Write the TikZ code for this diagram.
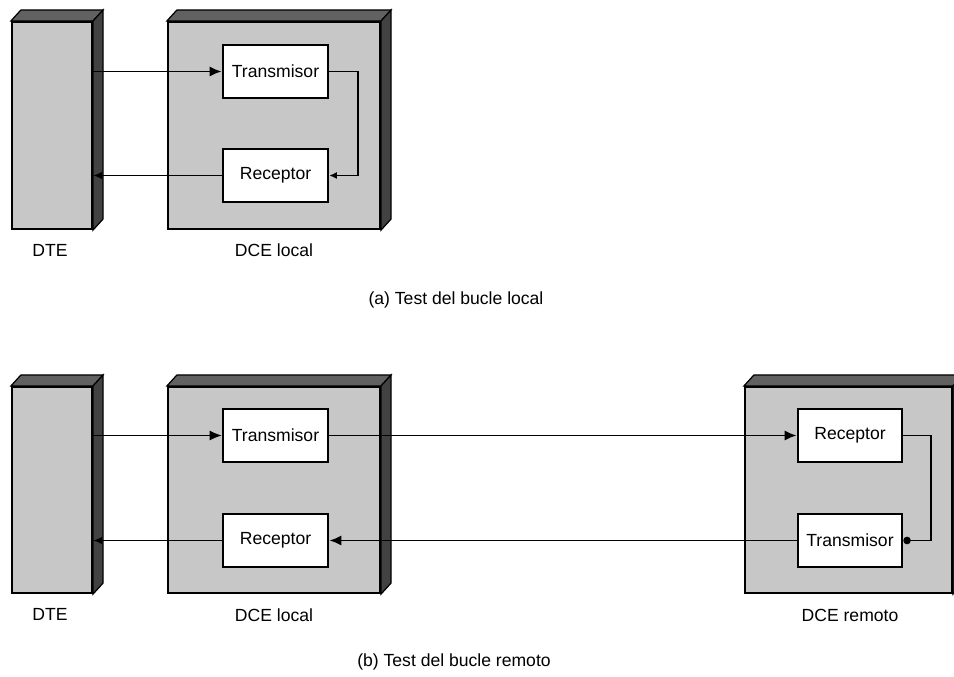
\documentclass[tikz,border=0pt]{standalone}
\usepackage{fontspec}
\setmainfont{Liberation Sans}
\usetikzlibrary{arrows.meta,positioning,calc}
\tikzset{
  unitbox/.style={draw=black, line width=1.2pt, fill=black!22, inner sep=0pt},
  blockbox/.style={draw=black, line width=1.5pt, fill=white, minimum width=21mm,
    minimum height=10.6mm, inner sep=2pt, font=\fontsize{10}{12}\selectfont},
  link/.style={-{Latex[length=2.4mm,width=2mm]}, line width=1pt},
  backlink/.style={-{Latex[length=1.8mm,width=1.5mm]}, line width=1pt},
  looplink/.style={-{Latex[length=1.5mm,width=1.4mm]}, line width=1pt},
  tag/.style={font=\fontsize{10}{12}\selectfont},
  topface/.style={fill=black!62, draw=black, line width=.7pt},
  sideface/.style={fill=black!74, draw=black, line width=.7pt}
}
\newcommand{\extrude}[1]{
  \filldraw[topface] (#1.north west) -- ++(.2,.22) -- ($(#1.north east)+(.2,.22)$) -- (#1.north east) -- cycle;
  \filldraw[sideface] (#1.north east) -- ++(.2,.22) -- ($(#1.south east)+(.2,.22)$) -- (#1.south east) -- cycle;
}

\begin{document}
\begin{tikzpicture}
  \useasboundingbox (0,0) rectangle (19.08,13.54);

  % (a) local loop
  \node[unitbox, minimum width=16mm, minimum height=41.4mm] (dteA) at (1.04,11.03) {};
  \node[unitbox, minimum width=42.4mm, minimum height=41.4mm] (dceA) at (5.48,11.03) {};
  \extrude{dteA}
  \extrude{dceA}
  \node[blockbox] (txA) at (5.51,12.11) {Transmisor};
  \node[blockbox] (rxA) at (5.51,10.03) {Receptor};
  \draw[link] (dteA.east |- txA) -- (txA.west);
  \draw[looplink] (txA.east) -- ++(.58,0) |- (rxA.east);
  \draw[backlink] (rxA.west) -- (dteA.east |- rxA);
  \node[tag] (dteAlbl) at (1.0,8.54) {DTE};
  \node[tag] (dceAlbl) at (5.48,8.54) {DCE local};
  \node[tag] (capA) at (9.12,7.54) {(a) Test del bucle local};

  % (b) remote loop
  \node[unitbox, minimum width=16mm, minimum height=41.2mm] (dteB) at (1.04,3.74) {};
  \node[unitbox, minimum width=42.4mm, minimum height=41.2mm] (dceB) at (5.48,3.74) {};
  \node[unitbox, minimum width=41.4mm, minimum height=41.2mm] (dceR) at (16.97,3.74) {};
  \extrude{dteB}
  \extrude{dceB}
  \extrude{dceR}
  \node[blockbox] (txB) at (5.51,4.83) {Transmisor};
  \node[blockbox] (rxB) at (5.51,2.73) {Receptor};
  \node[blockbox, minimum width=20.8mm] (rxR) at (17.0,4.83) {Receptor};
  \node[blockbox, minimum width=20.8mm] (txR) at (17.0,2.73) {Transmisor};
  \draw[link, line width=.6pt] (dteB.east |- txB) -- (txB.west);
  \draw[link] (txB.east) -- (rxR.west);
  \draw[-{Circle[length=1.5mm]}, line width=1pt] (rxR.east) -- ++(.56,0) |- (txR.east);
  \draw[link] (txR.west) -- (rxB.east);
  \draw[backlink] (rxB.west) -- (dteB.east |- rxB);
  \node[tag] (dteBlbl) at (1.0,1.26) {DTE};
  \node[tag] (dceBlbl) at (5.48,1.24) {DCE local};
  \node[tag] (dceRlbl) at (17.0,1.24) {DCE remoto};
  \node[tag] (capB) at (9.08,0.30) {(b) Test del bucle remoto};
\end{tikzpicture}
\end{document}
